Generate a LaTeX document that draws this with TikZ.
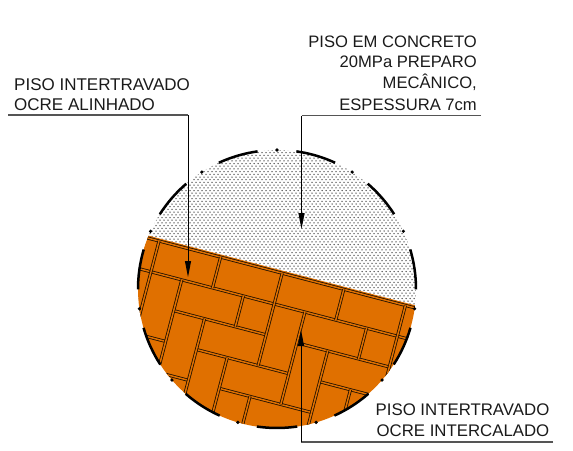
\documentclass[tikz,border=0pt]{standalone}
\usepackage{fontspec}
\setmainfont{Liberation Sans}
\usetikzlibrary{arrows.meta}
\definecolor{ocre}{HTML}{E07000}
\definecolor{mortar}{HTML}{1E1000}
\definecolor{labeltext}{HTML}{1A1A1A}
\definecolor{rulegray}{HTML}{555555}
\tikzset{
  mortar/.style={draw=mortar,line width=.8pt,double=ocre,double distance=1.5pt,line cap=butt},
  label text/.style={font=\fontsize{17}{20.6}\selectfont,text=labeltext,inner sep=0pt},
  shelf/.style={draw=rulegray,line width=1.3pt},
  leader/.style={draw=black,line width=.9pt},
  pointer/.style={leader,-{Triangle[length=16pt,width=6pt]}},
  rim/.style={draw=black,line width=2.5pt,line cap=butt}
}
\begin{document}
\begin{tikzpicture}[x=1pt,y=-1pt]
\useasboundingbox (0,0) rectangle (573,450);
% disc
\begin{scope}
  \clip (277,289) circle[radius=139];
  % concrete stipple
  \foreach \r in {0,...,60}{
    \pgfmathsetmacro{\yy}{150+2.7*\r}
    \pgfmathsetmacro{\xo}{136+2*mod(\r,2)}
    \foreach \c in {0,...,70}{
      \fill[black!70] ({\xo+4*\c},\yy) circle[radius=.75];
    }
  }
  % paving
  \begin{scope}[shift={(159,241)},x={(30.8pt,-8.05pt)},y={(-8.05pt,-30.8pt)}]
    \fill[ocre] (-2,-.08) -- (10,-.08) -- (10,7) -- (-2,7) -- cycle;
    % running joints
    \draw[mortar] (-2,0) -- (10,0);
    \draw[mortar] (-2,1) -- (9,1);
    \draw[mortar] (1,2) -- (4,2);
    \draw[mortar] (5,2) -- (8,2);
    \draw[mortar] (-2,3) -- (1,3);
    \draw[mortar] (2,3) -- (5,3);
    \draw[mortar] (6,3) -- (8.6,3);
    \draw[mortar] (0,4) -- (2,4);
    \draw[mortar] (3,4) -- (6,4);
    % cross joints
    \foreach \i in {0,2,4,6,8}{\draw[mortar] (\i,0) -- (\i,1);}
    \draw[mortar] (0,1) -- (0,3);
    \draw[mortar] (1,1) -- (1,5);
    \draw[mortar] (3,1) -- (3,2);
    \draw[mortar] (4,1) -- (4,3);
    \draw[mortar] (5,1) -- (5,4);
    \draw[mortar] (7,1) -- (7,2);
    \draw[mortar] (8,1) -- (8,3);
    \draw[mortar] (2,2) -- (2,5);
    \draw[mortar] (6,2) -- (6,5);
    \draw[mortar] (3,3) -- (3,5);
    \draw[mortar] (7,3) -- (7,5);
    \draw[mortar] (4,4) -- (4,5);
  \end{scope}
\end{scope}
% dash-dot rim
\foreach \k in {0,...,10}{
  \pgfmathsetmacro{\aa}{-90+32.727*\k}
  \fill[black] ({277+139*cos(\aa)},{289+139*sin(\aa)}) circle[radius=1.8];
  \draw[rim] ({277+139*cos(\aa+8)},{289+139*sin(\aa+8)}) arc[start angle=\aa+8,end angle=\aa+24.7,radius=139];
}
% labels
\node[label text,anchor=north west,align=left] (alinhado) at (14,78) {PISO INTERTRAVADO\\OCRE ALINHADO};
\node[label text,font=\fontsize{16.6}{20.6}\selectfont,anchor=north east,align=right] (concreto) at (477,35.3) {PISO EM CONCRETO\\20MPa PREPARO\\[.6pt]MECÂNICO,\\[.6pt]ESPESSURA 7cm};
\node[label text,font=\fontsize{16.8}{20.6}\selectfont,anchor=north east,align=right] (intercalado) at (549.5,404) {PISO INTERTRAVADO\\OCRE INTERCALADO};
% leaders
\coordinate (l0) at (8,115);
\coordinate (l1) at (188,115);
\coordinate (l2) at (188,277);
\coordinate (c0) at (481,115.7);
\coordinate (c1) at (301.5,115.7);
\coordinate (c2) at (301.5,229);
\coordinate (i0) at (553,442);
\coordinate (i1) at (301,442);
\coordinate (i2) at (301,330);
\draw[shelf] (l0) -- (l1);
\draw[pointer] (l1) -- (l2);
\draw[shelf] (c0) -- (c1);
\draw[pointer] (c1) -- (c2);
\draw[shelf] (i0) -- (i1);
\draw[pointer] (i1) -- (i2);
\end{tikzpicture}
\end{document}
